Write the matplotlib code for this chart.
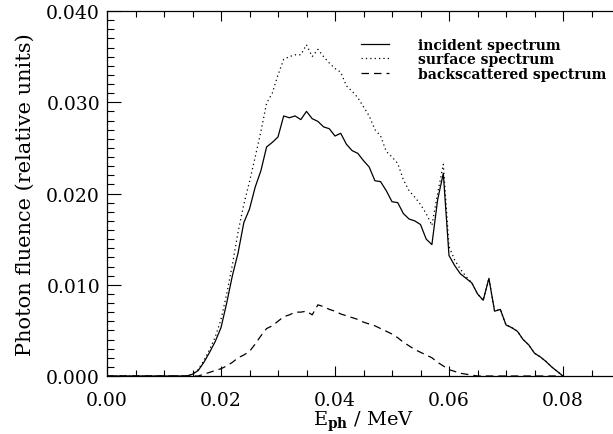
import numpy as np
import matplotlib
matplotlib.use('Agg')
import matplotlib.pyplot as plt
from matplotlib.ticker import MultipleLocator, FormatStrFormatter

# photon energy in MeV (first point pins the flat zero region)
energy = [0.000, 0.013, 0.014, 0.015, 0.016, 0.017, 0.018, 0.019,
          0.020, 0.021, 0.022, 0.023, 0.024, 0.025, 0.026, 0.027, 0.028, 0.029,
          0.030, 0.031, 0.032, 0.033, 0.034, 0.035, 0.036, 0.037, 0.038, 0.039,
          0.040, 0.041, 0.042, 0.043, 0.044, 0.045, 0.046, 0.047, 0.048, 0.049,
          0.050, 0.051, 0.052, 0.053, 0.054, 0.055, 0.056, 0.057, 0.058, 0.059,
          0.060, 0.061, 0.062, 0.063, 0.064, 0.065, 0.066, 0.067, 0.068, 0.069,
          0.070, 0.071, 0.072, 0.073, 0.074, 0.075, 0.076, 0.077, 0.078, 0.079,
          0.080]

incident = [0.0, 0.0, 0.0, 0.0002, 0.0006, 0.0015, 0.0026, 0.0038,
            0.0053, 0.0080, 0.0110, 0.0135, 0.0168, 0.0183, 0.0207, 0.0225, 0.0251, 0.0256,
            0.0262, 0.0285, 0.0283, 0.0285, 0.0281, 0.0290, 0.0282, 0.0279, 0.0273, 0.0271,
            0.0263, 0.0266, 0.0254, 0.0247, 0.0244, 0.0236, 0.0229, 0.0214, 0.0213, 0.0203,
            0.0191, 0.0190, 0.0178, 0.0172, 0.0170, 0.0166, 0.0150, 0.0144, 0.0193, 0.0222,
            0.0132, 0.0121, 0.0112, 0.0107, 0.0102, 0.0090, 0.0083, 0.0107, 0.0071, 0.0073,
            0.0056, 0.0053, 0.0049, 0.0040, 0.0034, 0.0025, 0.0021, 0.0016, 0.0010, 0.0005,
            0.0]

surface = [0.0, 0.0, 0.0, 0.0002, 0.0007, 0.0017, 0.0029, 0.0043,
           0.0062, 0.0090, 0.0122, 0.0158, 0.0188, 0.0213, 0.0240, 0.0268, 0.0299, 0.0310,
           0.0330, 0.0347, 0.0350, 0.0352, 0.0352, 0.0363, 0.0350, 0.0358, 0.0350, 0.0343,
           0.0337, 0.0333, 0.0318, 0.0312, 0.0305, 0.0295, 0.0285, 0.0270, 0.0263, 0.0246,
           0.0240, 0.0233, 0.0215, 0.0203, 0.0196, 0.0188, 0.0178, 0.0165, 0.0200, 0.0232,
           0.0142, 0.0127, 0.0117, 0.0109, 0.0102, 0.0090, 0.0083, 0.0107, 0.0071, 0.0073,
           0.0056, 0.0053, 0.0049, 0.0040, 0.0034, 0.0025, 0.0021, 0.0016, 0.0010, 0.0005,
           0.0]

backscattered = [0.0, 0.0, 0.0, 0.0, 0.0, 0.0002, 0.0004, 0.0006,
                 0.0008, 0.0011, 0.0015, 0.0020, 0.0023, 0.0027, 0.0035, 0.0044, 0.0052, 0.0055,
                 0.0060, 0.0065, 0.0067, 0.0070, 0.0070, 0.0071, 0.0067, 0.0078, 0.0076, 0.0073,
                 0.0071, 0.0068, 0.0066, 0.0064, 0.0062, 0.0059, 0.0057, 0.0055, 0.0052, 0.0049,
                 0.0046, 0.0042, 0.0037, 0.0033, 0.0029, 0.0026, 0.0023, 0.0020, 0.0015, 0.0011,
                 0.0007, 0.0005, 0.0003, 0.0002, 0.0001, 0.0, 0.0, 0.0, 0.0, 0.0,
                 0.0, 0.0, 0.0, 0.0, 0.0, 0.0, 0.0, 0.0, 0.0, 0.0,
                 0.0]

labels = ['incident spectrum', 'surface spectrum', 'backscattered spectrum']

plt.rcParams['font.family'] = 'DejaVu Serif'
plt.rcParams['mathtext.fontset'] = 'dejavuserif'

fig = plt.figure(figsize=(6.13, 4.35), dpi=100)
# right edge of the frame falls just outside the picture, as in the original
ax = fig.add_axes([107 / 613, 58 / 435, 513 / 613, 365 / 435])

ax.plot(energy, incident, color='black', lw=0.9, ls='-', label=labels[0])
ax.plot(energy, surface, color='black', lw=0.9, ls=(0, (1, 2.5)), label=labels[1])
ax.plot(energy, backscattered, color='black', lw=0.9, ls=(0, (6, 4)), label=labels[2])

ax.set_xlim(0, 0.09)
ax.set_ylim(0, 0.04)
ax.xaxis.set_major_locator(MultipleLocator(0.02))
ax.xaxis.set_minor_locator(MultipleLocator(0.005))
ax.yaxis.set_major_locator(MultipleLocator(0.01))
ax.yaxis.set_minor_locator(MultipleLocator(0.001))
ax.xaxis.set_major_formatter(FormatStrFormatter('%.2f'))
ax.yaxis.set_major_formatter(FormatStrFormatter('%.3f'))

ax.tick_params(axis='both', which='both', direction='in', top=True, right=False,
               width=0.8, labelsize=13.5)
ax.tick_params(axis='x', which='major', length=7, pad=11)
ax.tick_params(axis='x', which='minor', length=4)
ax.tick_params(axis='y', which='major', length=10, pad=5)
ax.tick_params(axis='y', which='minor', length=5)
for s in ax.spines.values():
    s.set_linewidth(0.9)
ax.spines['right'].set_visible(False)

ax.set_xlabel(r'E$_{\mathbf{ph}}$ / MeV', fontsize=14, labelpad=0)
ax.set_ylabel('Photon fluence (relative units)', fontsize=15, labelpad=8)

leg = ax.legend(loc='upper left', bbox_to_anchor=(0.495, 0.927), frameon=False,
                fontsize=10, handlelength=2.0, handletextpad=2.1,
                labelspacing=0.05, borderpad=0, borderaxespad=0)
for t in leg.get_texts():
    t.set_fontweight('bold')

fig.savefig('out.png', dpi=100)
